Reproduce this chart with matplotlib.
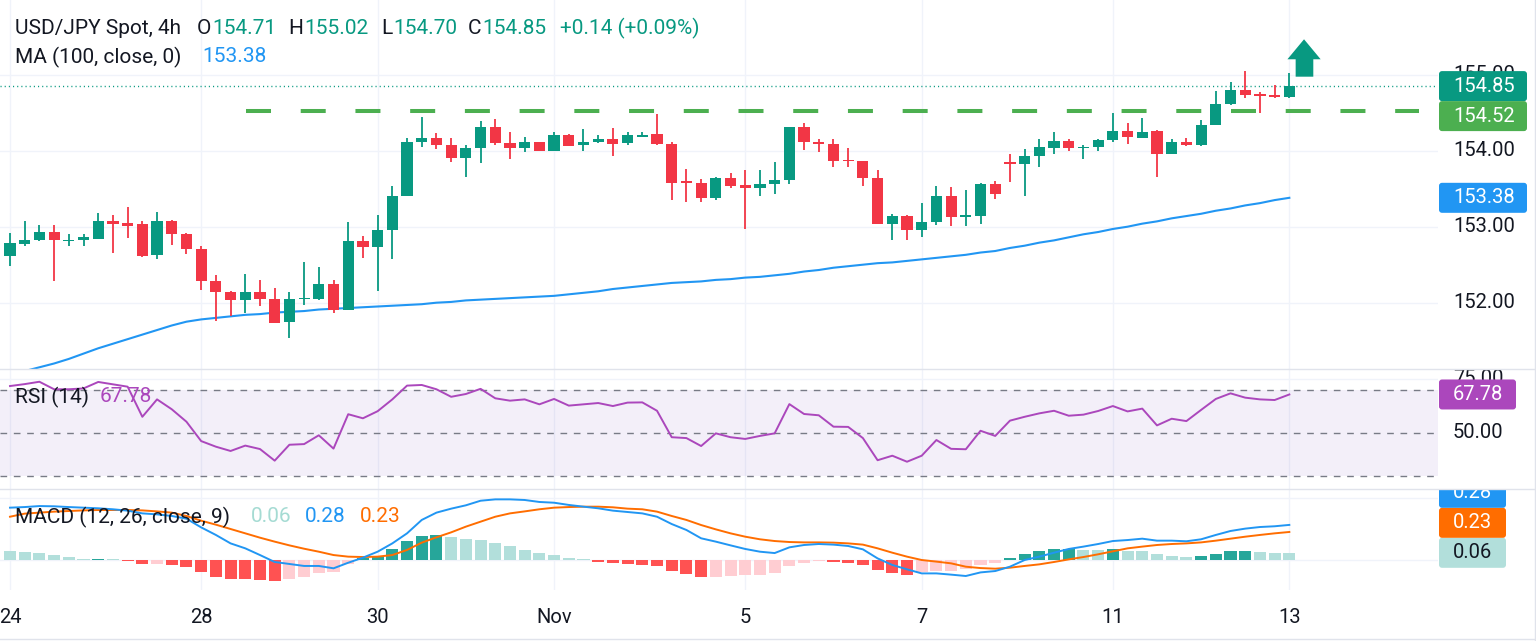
import numpy as np
import matplotlib
matplotlib.use("Agg")
import matplotlib.pyplot as plt
from matplotlib.patches import FancyBboxPatch, Polygon
from matplotlib.transforms import IdentityTransform
from matplotlib.lines import Line2D

plt.rcParams['font.family'] = ['Roboto', 'DejaVu Sans']
plt.rcParams['lines.scale_dashes'] = False

# USD/JPY spot, 4h candles, 24 Oct -> 13 Nov
opens = [152.62, 152.77, 152.82, 152.93, 152.81, 152.82, 152.84, 153.07, 153.05, 153.03,
         152.63, 153.08, 152.90, 152.70, 152.28, 152.14, 152.03, 152.14, 152.05, 151.74,
         152.05, 152.05, 152.25, 151.91, 152.81, 152.73, 152.96, 153.40, 154.11, 154.17,
         154.07, 153.90, 154.03, 154.31, 154.10, 154.03, 154.11, 154.00, 154.20, 154.07,
         154.11, 154.15, 154.10, 154.18, 154.22, 154.09, 153.60, 153.57, 153.38, 153.64,
         153.55, 153.51, 153.56, 153.61, 154.31, 154.12, 154.09, 153.88, 153.87, 153.64,
         153.04, 153.14, 152.95, 153.06, 153.40, 153.13, 153.14, 153.56, 153.85, 153.82,
         153.93, 154.04, 154.13, 154.03, 154.05, 154.14, 154.26, 154.17, 154.26, 153.96,
         154.12, 154.07, 154.34, 154.61, 154.80, 154.74, 154.73, 154.71]
highs = [152.92, 153.07, 153.02, 153.02, 152.90, 152.90, 153.18, 153.16, 153.26, 153.08,
         153.19, 153.09, 152.92, 152.74, 152.36, 152.15, 152.38, 152.30, 152.19, 152.14,
         152.54, 152.47, 152.30, 153.06, 152.88, 153.15, 153.54, 154.17, 154.45, 154.23,
         154.17, 154.07, 154.39, 154.42, 154.25, 154.18, 154.12, 154.25, 154.22, 154.29,
         154.21, 154.30, 154.25, 154.25, 154.48, 154.11, 153.76, 153.63, 153.66, 153.70,
         153.75, 153.74, 153.85, 154.31, 154.36, 154.15, 154.15, 154.03, 153.87, 153.74,
         153.17, 153.15, 153.31, 153.54, 153.52, 153.48, 153.58, 153.60, 153.96, 154.02,
         154.15, 154.25, 154.16, 154.07, 154.16, 154.49, 154.36, 154.43, 154.27, 154.15,
         154.17, 154.40, 154.78, 154.90, 155.05, 154.77, 154.87, 155.02]
lows = [152.48, 152.75, 152.81, 152.28, 152.75, 152.75, 152.84, 152.65, 152.85, 152.60,
        152.57, 152.76, 152.64, 152.17, 151.76, 151.83, 151.86, 151.95, 151.73, 151.54,
        151.97, 152.04, 151.87, 151.90, 152.59, 152.16, 152.57, 153.40, 154.05, 154.02,
        153.85, 153.66, 153.84, 154.07, 153.89, 153.98, 154.00, 154.00, 154.06, 153.99,
        154.10, 153.93, 154.07, 154.18, 154.07, 153.35, 153.33, 153.33, 153.35, 153.51,
        152.97, 153.40, 153.43, 153.56, 154.01, 153.98, 153.79, 153.78, 153.53, 153.04,
        152.83, 152.82, 152.86, 153.02, 153.01, 153.01, 153.03, 153.37, 153.59, 153.41,
        153.79, 153.95, 153.99, 153.89, 154.00, 154.11, 154.09, 154.17, 153.66, 153.95,
        154.06, 154.06, 154.34, 154.60, 154.70, 154.50, 154.70, 154.70]
closes = [152.78, 152.83, 152.93, 152.82, 152.83, 152.87, 153.07, 153.04, 153.01, 152.62,
          153.08, 152.90, 152.70, 152.28, 152.14, 152.03, 152.14, 152.05, 151.73, 152.05,
          152.06, 152.25, 151.90, 152.81, 152.73, 152.96, 153.40, 154.11, 154.17, 154.07,
          153.90, 154.04, 154.31, 154.10, 154.04, 154.11, 154.00, 154.20, 154.06, 154.11,
          154.15, 154.09, 154.20, 154.21, 154.09, 153.58, 153.58, 153.38, 153.64, 153.54,
          153.51, 153.56, 153.62, 154.31, 154.11, 154.09, 153.87, 153.86, 153.64, 153.04,
          153.14, 152.95, 153.06, 153.40, 153.13, 153.16, 153.56, 153.43, 153.82, 153.93,
          154.05, 154.13, 154.03, 154.05, 154.14, 154.26, 154.18, 154.25, 153.96, 154.12,
          154.07, 154.34, 154.61, 154.80, 154.73, 154.72, 154.71, 154.85]
ma100 = [151.04, 151.10, 151.15, 151.20, 151.26, 151.33, 151.40, 151.46, 151.52, 151.58,
         151.64, 151.70, 151.75, 151.78, 151.80, 151.82, 151.84, 151.85, 151.87, 151.88,
         151.89, 151.91, 151.92, 151.93, 151.94, 151.95, 151.96, 151.97, 151.98, 152.00,
         152.01, 152.03, 152.04, 152.05, 152.06, 152.07, 152.08, 152.09, 152.11, 152.13,
         152.15, 152.18, 152.20, 152.22, 152.24, 152.26, 152.27, 152.28, 152.30, 152.31,
         152.33, 152.34, 152.36, 152.38, 152.41, 152.43, 152.46, 152.48, 152.50, 152.52,
         152.53, 152.55, 152.57, 152.59, 152.61, 152.63, 152.66, 152.68, 152.72, 152.75,
         152.79, 152.82, 152.86, 152.90, 152.93, 152.97, 153.00, 153.04, 153.07, 153.11,
         153.14, 153.17, 153.21, 153.24, 153.28, 153.31, 153.35, 153.38]
rsi = [71.7, 72.6, 73.7, 70.2, 70.2, 70.6, 73.6, 72.5, 71.4, 57.4,
       65.5, 60.9, 55.1, 46.1, 43.5, 41.5, 44.0, 42.4, 37.0, 44.4,
       44.7, 48.8, 42.6, 58.6, 56.7, 60.0, 65.5, 71.9, 72.2, 70.2,
       66.7, 68.0, 70.4, 66.0, 64.9, 65.5, 63.2, 65.7, 62.6, 63.2,
       63.8, 62.4, 64.0, 64.1, 60.2, 47.9, 47.5, 43.8, 49.7, 47.9,
       47.1, 48.5, 49.7, 63.3, 58.7, 58.1, 52.8, 52.7, 47.5, 37.2,
       39.3, 36.5, 39.3, 46.6, 42.5, 42.3, 50.9, 48.5, 55.6, 57.4,
       59.0, 60.2, 57.9, 58.4, 60.1, 62.4, 59.9, 61.2, 53.4, 56.5,
       55.4, 60.6, 65.7, 68.3, 66.3, 65.5, 65.2, 67.78]
macd = [0.422, 0.427, 0.435, 0.433, 0.427, 0.422, 0.417, 0.409, 0.398, 0.376,
        0.368, 0.355, 0.333, 0.263, 0.202, 0.134, 0.094, 0.040, -0.016, -0.032,
        -0.048, -0.048, -0.067, -0.022, 0.019, 0.067, 0.134, 0.215, 0.323, 0.382,
        0.414, 0.441, 0.478, 0.489, 0.489, 0.484, 0.468, 0.462, 0.444, 0.430,
        0.417, 0.398, 0.387, 0.376, 0.349, 0.290, 0.242, 0.175, 0.148, 0.118,
        0.089, 0.067, 0.056, 0.102, 0.121, 0.129, 0.124, 0.113, 0.086, 0.013,
        -0.040, -0.075, -0.108, -0.108, -0.118, -0.129, -0.100, -0.089, -0.054, 0.000,
        0.027, 0.059, 0.089, 0.108, 0.129, 0.153, 0.161, 0.172, 0.156, 0.156,
        0.151, 0.167, 0.202, 0.234, 0.253, 0.266, 0.272, 0.283]
signal = [0.349, 0.374, 0.382, 0.390, 0.395, 0.400, 0.403, 0.403, 0.403, 0.400,
          0.392, 0.382, 0.355, 0.317, 0.285, 0.250, 0.215, 0.180, 0.148, 0.118,
          0.091, 0.067, 0.040, 0.027, 0.024, 0.027, 0.040, 0.081, 0.140, 0.183,
          0.223, 0.269, 0.309, 0.349, 0.376, 0.392, 0.409, 0.422, 0.427, 0.430,
          0.430, 0.425, 0.414, 0.409, 0.390, 0.355, 0.323, 0.282, 0.247, 0.215,
          0.188, 0.167, 0.153, 0.145, 0.142, 0.142, 0.140, 0.134, 0.124, 0.094,
          0.059, 0.027, 0.000, -0.013, -0.027, -0.054, -0.065, -0.070, -0.062, -0.048,
          -0.035, -0.016, 0.005, 0.024, 0.046, 0.070, 0.094, 0.108, 0.121, 0.129,
          0.134, 0.142, 0.156, 0.172, 0.188, 0.202, 0.215, 0.226]
hist = [0.073, 0.067, 0.059, 0.040, 0.024, 0.008, 0.012, 0.010, -0.005, -0.035,
        -0.030, -0.043, -0.059, -0.099, -0.134, -0.153, -0.155, -0.158, -0.169, -0.153,
        -0.134, -0.102, -0.099, -0.035, 0.013, 0.032, 0.086, 0.153, 0.196, 0.204,
        0.188, 0.167, 0.165, 0.137, 0.110, 0.081, 0.054, 0.040, 0.019, 0.008,
        -0.016, -0.027, -0.032, -0.040, -0.048, -0.089, -0.110, -0.140, -0.134, -0.126,
        -0.124, -0.118, -0.105, -0.048, -0.027, -0.008, -0.016, -0.021, -0.038, -0.081,
        -0.105, -0.124, -0.094, -0.092, -0.089, -0.075, -0.040, -0.027, 0.013, 0.048,
        0.070, 0.086, 0.091, 0.081, 0.078, 0.089, 0.073, 0.070, 0.048, 0.035,
        0.024, 0.032, 0.048, 0.070, 0.072, 0.068, 0.059, 0.058]
day_ticks = [0, 13, 25, 37, 50, 62, 75, 87]
day_labels = ['24', '28', '30', 'Nov', '5', '7', '11', '13']
resistance = 154.52
price_grid = [152, 153, 154, 155]
rsi_levels = [70, 50, 30]

TXT = '#131722'
UP = '#089981'
DOWN = '#f23645'
GRID = '#f0f3fa'
BLUE = '#2196f3'
PURPLE = '#ab47bc'
ORANGE = '#ff6d00'
FS = 14.5
FS_HEAD = 15

W, H = 1536, 641
PR = 1438  # right edge of the plotting area, px
fig = plt.figure(figsize=(W / 100, H / 100), dpi=100)
fig.patch.set_facecolor('white')


def rect(x0, y0, x1, y1):
    # pixel box (from top-left) -> figure fraction
    return [x0 / W, 1 - y1 / H, (x1 - x0) / W, (y1 - y0) / H]


ax_p = fig.add_axes(rect(0, 0, PR, 368.5))
ax_r = fig.add_axes(rect(0, 368.5, PR, 488.5))
ax_m = fig.add_axes(rect(0, 488.5, PR, 590))
sc_p = fig.add_axes(rect(PR, 0, W, 368.5))
sc_r = fig.add_axes(rect(PR, 368.5, W, 488.5))
sc_m = fig.add_axes(rect(PR, 488.5, W, 590))

x = np.arange(len(closes))
o, h, l, c = map(np.array, (opens, highs, lows, closes))
hist_a = np.array(hist)

for a, lim in ((ax_p, (151.134, 155.983)), (ax_r, (24.05, 79.86)), (ax_m, (-0.2419, 0.5766))):
    a.set_xlim(-0.68, 97.11)
    a.set_ylim(*lim)
    a.set_yticks([])
    a.set_xticks([])
    for s in a.spines.values():
        s.set_visible(False)
    for t in day_ticks:
        a.axvline(t, color=GRID, lw=1, zorder=0)
for sc, a in ((sc_p, ax_p), (sc_r, ax_r), (sc_m, ax_m)):
    sc.set_xlim(0, 1)
    sc.set_ylim(a.get_ylim())
    sc.set_axis_off()

# ---- price panel ----
for v in price_grid:
    ax_p.axhline(v, color=GRID, lw=1, zorder=0)
cols = np.where(c >= o, UP, DOWN)
ax_p.vlines(x, l, h, colors=cols, lw=1.3, zorder=3)
ax_p.bar(x, np.maximum(np.abs(c - o), 0.012), bottom=np.minimum(o, c), width=0.76,
         color=cols, lw=0, zorder=4)
ax_p.plot(x, ma100, color=BLUE, lw=1.5, zorder=2)
ax_p.axhline(c[-1], color=UP, lw=1.0, dashes=(0.8, 2.2), zorder=1)
ax_p.plot([16.03, 95.85], [resistance, resistance], color='#4caf50', lw=2.9,
          dashes=(18, 21.4), dash_capstyle='butt', zorder=2)
# up arrow next to the last candle
ax0 = x[-1] + 1.0
arrow = [(ax0, 155.466), (ax0 + 1.13, 155.203), (ax0 + 0.63, 155.203), (ax0 + 0.63, 154.974),
         (ax0 - 0.57, 154.974), (ax0 - 0.57, 155.203), (ax0 - 1.13, 155.203)]
ax_p.add_patch(Polygon(arrow, closed=True, fc=UP, ec='none', zorder=5))

# ---- RSI panel ----
ax_r.axhline(75, color=GRID, lw=1, zorder=0)
ax_r.axhspan(30, 70, color='#7e57c2', alpha=0.09, lw=0, zorder=1)
for lv in rsi_levels:
    ax_r.axhline(lv, color='#787b86', lw=1, dashes=(4.8, 4.8), zorder=2)
ax_r.plot(x, rsi, color=PURPLE, lw=1.4, zorder=3)

# ---- MACD panel ----
ax_m.axhline(0, color=GRID, lw=1, zorder=0)
ax_m.axhline(0.5, color=GRID, lw=1, zorder=0)
prev = np.r_[hist_a[0], hist_a[:-1]]
hcols = np.where(hist_a >= 0,
                 np.where(hist_a > prev, '#26a69a', '#b2dfdb'),
                 np.where(hist_a < prev, '#ff5252', '#ffcdd2'))
ax_m.bar(x, hist_a, width=0.82, color=hcols, lw=0, zorder=1)
ax_m.plot(x, macd, color=BLUE, lw=1.4, zorder=3)
ax_m.plot(x, signal, color=ORANGE, lw=1.4, zorder=2)
ax_m.set_xticks(day_ticks, day_labels)
ax_m.tick_params(axis='x', length=0, pad=13, labelsize=FS, labelcolor=TXT)

# ---- right-hand scales ----
for v in price_grid:
    sc_p.text(0.153, v, f"{v:.2f}", transform=sc_p.get_yaxis_transform(), va='center',
              ha='left', fontsize=FS, color=TXT, clip_on=True, zorder=2)
for v in (75, 50):
    sc_r.text(0.153, v, f"{v:.2f}", transform=sc_r.get_yaxis_transform(), va='center',
              ha='left', fontsize=FS, color=TXT, clip_on=True, zorder=2)

TAG_H = 30


def ydisp(a, v):
    return a.transData.transform((0, v))[1]


def tag(sc, yd, s, face, fg, w):
    sc.add_patch(FancyBboxPatch((PR + 1, yd - TAG_H / 2), w, TAG_H,
                                boxstyle='round,pad=0,rounding_size=3',
                                transform=IdentityTransform(), fc=face, ec='none', zorder=5))
    sc.text(1453, yd, s, transform=IdentityTransform(), color=fg, fontsize=FS,
            va='center', ha='left', zorder=6, clip_on=True)


last = None
for v, face in sorted([(c[-1], UP), (resistance, '#4caf50'), (ma100[-1], BLUE)],
                      key=lambda t: -t[0]):
    yd = ydisp(ax_p, v)
    if last is not None and last - yd < TAG_H:
        yd = last - TAG_H
    tag(sc_p, yd, f"{v:.2f}", face, 'white', 88)
    last = yd

tag(sc_r, ydisp(ax_r, rsi[-1]), f"{rsi[-1]:.2f}", PURPLE, 'white', 77)

last = None
for v, face, fg in [(hist[-1], '#b2dfdb', TXT), (signal[-1], ORANGE, 'white'),
                    (macd[-1], BLUE, 'white')]:
    yd = ydisp(ax_m, v)
    if last is not None and yd - last < TAG_H:
        yd = last + TAG_H
    tag(sc_m, yd, f"{v:.2f}", face, fg, 67)
    last = yd

# ---- legends / header ----
renderer = fig.canvas.get_renderer()


def chain(xp, yp, parts, gap=1):
    # write text pieces one after another, starting at pixel xp
    for s, col in parts:
        t = fig.text(xp / W, 1 - yp / H, s, color=col, fontsize=FS_HEAD, va='center',
                     ha='left', zorder=10)
        xp = t.get_window_extent(renderer).x1 + gap
    return xp


chg = c[-1] - c[-2]
chain(15, 28, [("USD/JPY Spot, 4h", TXT)])
chain(197, 28, [("O", TXT), (f"{o[-1]:.2f}", UP)])
chain(288, 28, [("H", TXT), (f"{h[-1]:.2f}", UP)])
chain(381, 28, [("L", TXT), (f"{l[-1]:.2f}", UP)])
chain(468, 28, [("C", TXT), (f"{c[-1]:.2f}", UP)])
chain(560, 28, [(f"{chg:+.2f} ({chg / c[-2] * 100:+.2f}%)", UP)])
chain(15, 57, [("MA (100, close, 0)", TXT)])
chain(202, 57, [(f"{ma100[-1]:.2f}", BLUE)])
chain(15, 397, [("RSI (14)", TXT)])
chain(100, 397, [(f"{rsi[-1]:.2f}", PURPLE)])
chain(15, 517, [("MACD (12, 26, close, 9)", TXT)])
chain(251, 517, [(f"{hist[-1]:.2f}", '#a5dbd3')])
chain(305, 517, [(f"{macd[-1]:.2f}", BLUE)])
chain(360, 517, [(f"{signal[-1]:.2f}", ORANGE)])

# panel separators and frame
for yp in (368.5, 488.5, 638.5):
    fig.add_artist(Line2D([0, 1], [1 - yp / H] * 2, transform=fig.transFigure,
                          color='#e0e3eb', lw=1))
fig.add_artist(Line2D([1534.5 / W] * 2, [0, 1], transform=fig.transFigure, color='#e0e3eb', lw=1))

fig.savefig("out.png", dpi=100, facecolor='white')
